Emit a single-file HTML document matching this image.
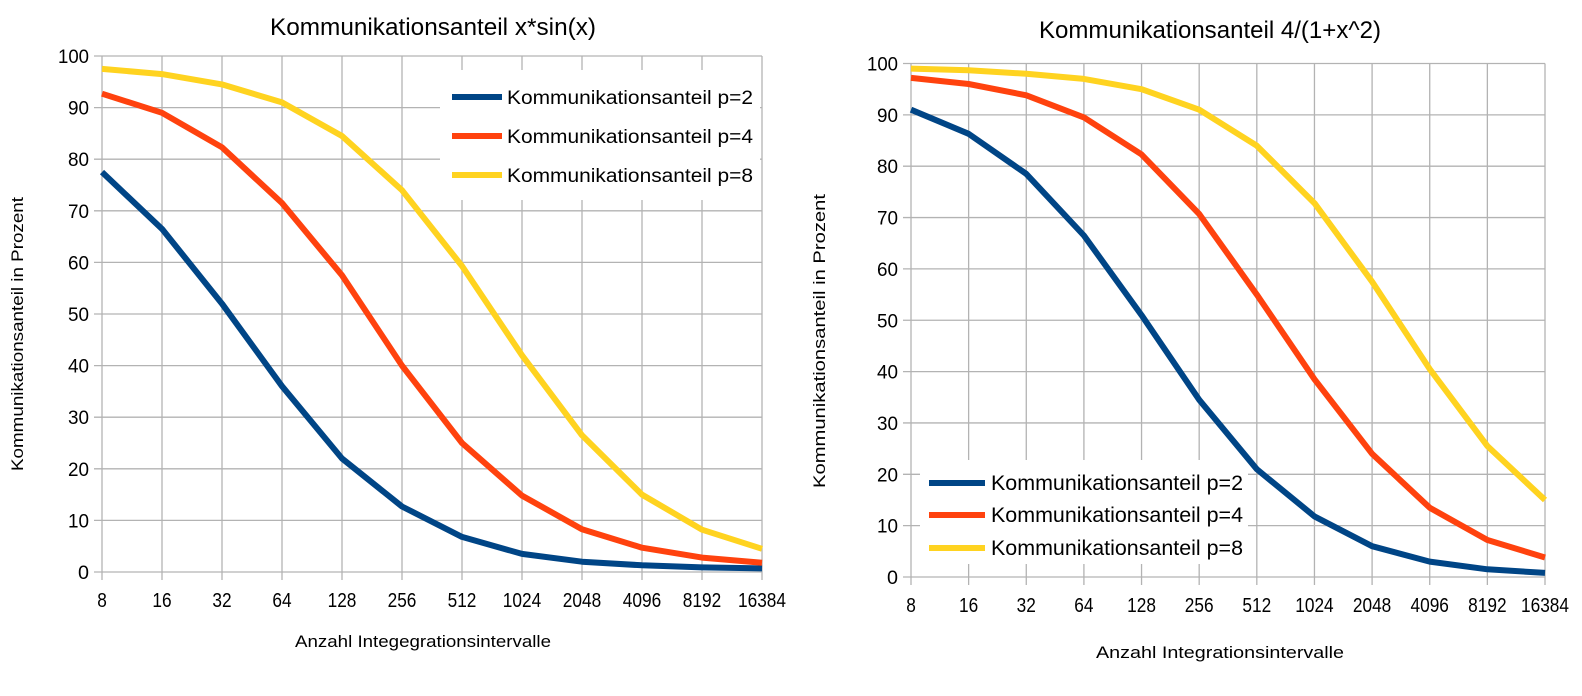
<!DOCTYPE html>
<html><head><meta charset="utf-8"><style>
html,body{margin:0;padding:0;background:#fff;}
svg{display:block;font-family:"Liberation Sans",sans-serif;}
</style></head><body>
<svg id="svg" width="1582" height="696" viewBox="0 0 1582 696"></svg>
<script>
const categories = ["8","16","32","64","128","256","512","1024","2048","4096","8192","16384"];
const yTicks = [0,10,20,30,40,50,60,70,80,90,100];
const seriesNames = ["Kommunikationsanteil p=2","Kommunikationsanteil p=4","Kommunikationsanteil p=8"];
const leftP2 = [77.5,66.5,52,36,22,12.7,6.8,3.5,2,1.3,0.9,0.7];
const leftP4 = [92.7,89,82.3,71.5,57.5,40,25,14.8,8.3,4.7,2.8,1.8];
const leftP8 = [97.5,96.5,94.5,91,84.5,74,59.3,42,26.5,15,8.2,4.5];
const rightP2 = [91,86.3,78.5,66.5,51,34.5,21,11.8,6,3,1.5,0.8];
const rightP4 = [97.2,96,93.8,89.5,82.3,70.7,55,38.5,24,13.5,7.2,3.8];
const rightP8 = [99,98.7,98,97,95,91,84,72.8,57.5,40.5,25.5,15];
const colors = ["#004586","#ff420e","#ffd320"];
const NS="http://www.w3.org/2000/svg";
const svg=document.getElementById('svg');
function mk(tag,attrs,parent,text){const e=document.createElementNS(NS,tag);for(const k in attrs)e.setAttribute(k,attrs[k]);if(text!==undefined)e.textContent=text;(parent||svg).appendChild(e);return e;}

function chart(cfg){
  const g=mk('g',{});
  
  
  const xs=i=>cfg.x0+(cfg.x1-cfg.x0)*i/(categories.length-1);
  const ys=v=>cfg.y0+(cfg.y100-cfg.y0)*v/100;
  yTicks.forEach(t=>{
    const l=mk('line',{x1:cfg.x0-8,x2:cfg.x1,y1:ys(t),y2:ys(t),stroke:'#b3b3b3','stroke-width':1.3},g);
    
    
    const tx=mk('text',{x:cfg.x0-13,y:ys(t)+7,'text-anchor':'end','font-size':19,fill:'#000',textLength:t===100?31:(t===0?11:21),lengthAdjust:'spacingAndGlyphs'},g,String(t));
    
    
  });
  categories.forEach((c,i)=>{
    const l=mk('line',{x1:xs(i),x2:xs(i),y1:cfg.y100,y2:cfg.y0+8,stroke:'#b3b3b3','stroke-width':1.3},g);
    
    
    const tx=mk('text',{x:xs(i),y:cfg.y0+35,'text-anchor':'middle','font-size':20,fill:'#000',textLength:c.length*9.6,lengthAdjust:'spacingAndGlyphs'},g,c);
    
    
  });
  const lb=mk('rect',{x:cfg.lg.x,y:cfg.lg.y,width:cfg.lg.w,height:cfg.lg.h,fill:'#fff'},g);
  
  
  cfg.data.forEach((arr,si)=>{
    const pts=arr.map((v,i)=>xs(i).toFixed(1)+','+ys(v).toFixed(1)).join(' ');
    const p=mk('polyline',{points:pts,fill:'none',stroke:colors[si],'stroke-width':6,'stroke-linejoin':'round'},g);
    
    
  });
  seriesNames.forEach((n,si)=>{
    const yy=cfg.lg.ey[si];
    const ln=mk('line',{x1:cfg.lg.lx1,x2:cfg.lg.lx2,y1:yy,y2:yy,stroke:colors[si],'stroke-width':6},g);
    
    
    const tx=mk('text',{x:cfg.lg.tx,y:yy+7,'font-size':cfg.lg.fs,fill:'#000',textLength:cfg.lg.tw,lengthAdjust:'spacingAndGlyphs'},g,n);
    
    
  });
  const ti=mk('text',{x:cfg.tcx,y:cfg.ty,'text-anchor':'middle','font-size':24,fill:'#000',textLength:cfg.tw,lengthAdjust:'spacingAndGlyphs'},g,cfg.title);
  
  
  const xt=mk('text',{x:cfg.xtcx,y:cfg.xty,'text-anchor':'middle','font-size':17,fill:'#000',textLength:cfg.xtw,lengthAdjust:'spacingAndGlyphs'},g,cfg.xtitle);
  
  
  const yt=mk('text',{x:0,y:0,'text-anchor':'middle','font-size':17,fill:'#000',textLength:cfg.ytw,lengthAdjust:'spacingAndGlyphs',transform:`translate(${cfg.ytx},${cfg.ytc}) rotate(-90)`},g,'Kommunikationsanteil in Prozent');
  
  
}

chart({name:'left-chart',x0:102,x1:762,y0:572,y100:56,data:[leftP2,leftP4,leftP8],
  lg:{x:440,y:70,w:320,h:130,ey:[97,136,175],lx1:452,lx2:502,tx:507,fs:19,tw:246},
  tcx:433,ty:35,tw:326,title:'Kommunikationsanteil x*sin(x)',
  xtcx:423,xty:647,xtw:256,xtitle:'Anzahl Integegrationsintervalle',ytx:23,ytc:334,ytw:274});
chart({name:'right-chart',x0:911,x1:1545,y0:577,y100:63.5,data:[rightP2,rightP4,rightP8],
  lg:{x:920,y:460,w:328,h:104,ey:[483,515,548],lx1:929,lx2:985,tx:991,fs:21,tw:252},
  tcx:1210,ty:38,tw:342,title:'Kommunikationsanteil 4/(1+x^2)',
  xtcx:1220,xty:658,xtw:248,xtitle:'Anzahl Integrationsintervalle',ytx:825,ytc:341,ytw:294});
</script>
</body></html>
